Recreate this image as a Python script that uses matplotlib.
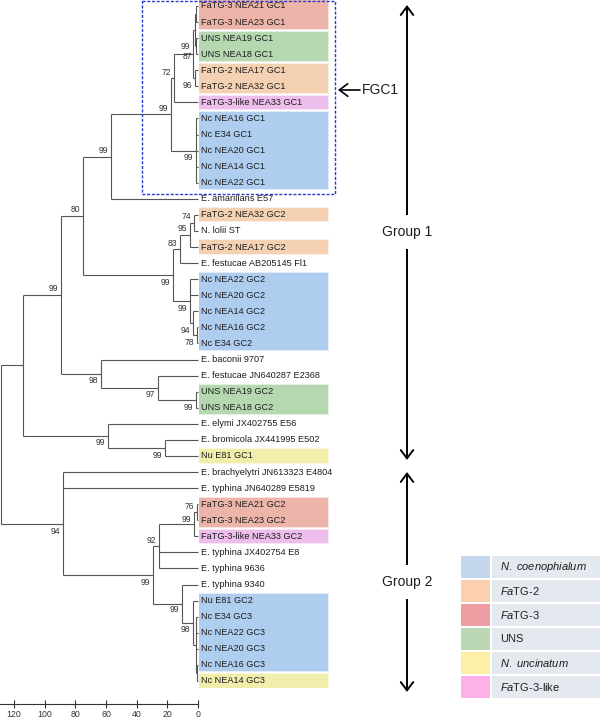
import matplotlib
matplotlib.use("Agg")
import matplotlib.pyplot as plt
from matplotlib.patches import Rectangle

plt.rcParams['font.family'] = ['Liberation Sans', 'DejaVu Sans']
plt.rcParams['mathtext.fontset'] = 'custom'
plt.rcParams['mathtext.it'] = 'Liberation Sans:italic'
plt.rcParams['mathtext.rm'] = 'Liberation Sans'

# ---------------- data ----------------
leaf_names = [
    "FaTG-3 NEA21 GC1", "FaTG-3 NEA23 GC1", "UNS NEA19 GC1", "UNS NEA18 GC1",
    "FaTG-2 NEA17 GC1", "FaTG-2 NEA32 GC1", "FaTG-3-like NEA33 GC1",
    "Nc NEA16 GC1", "Nc E34 GC1", "Nc NEA20 GC1", "Nc NEA14 GC1", "Nc NEA22 GC1",
    "E. amarillans E57", "FaTG-2 NEA32 GC2", "N. lolii ST", "FaTG-2 NEA17 GC2",
    "E. festucae AB205145 Fl1", "Nc NEA22 GC2", "Nc NEA20 GC2", "Nc NEA14 GC2",
    "Nc NEA16 GC2", "Nc E34 GC2", "E. baconii 9707", "E. festucae JN640287 E2368",
    "UNS NEA19 GC2", "UNS NEA18 GC2", "E. elymi JX402755 E56",
    "E. bromicola JX441995 E502", "Nu E81 GC1", "E. brachyelytri JN613323 E4804",
    "E. typhina JN640289 E5819", "FaTG-3 NEA21 GC2", "FaTG-3 NEA23 GC2",
    "FaTG-3-like NEA33 GC2", "E. typhina JX402754 E8", "E. typhina 9636",
    "E. typhina 9340", "Nu E81 GC2", "Nc E34 GC3", "Nc NEA22 GC3", "Nc NEA20 GC3",
    "Nc NEA16 GC3", "Nc NEA14 GC3",
]
leaf_groups = [
    "F3", "F3", "UNS", "UNS", "F2", "F2", "F3L", "Nc", "Nc", "Nc", "Nc", "Nc",
    "", "F2", "", "F2", "", "Nc", "Nc", "Nc", "Nc", "Nc", "", "", "UNS", "UNS",
    "", "", "Nu", "", "", "F3", "F3", "F3L", "", "", "", "Nc", "Nc", "Nc", "Nc",
    "Nc", "Nu",
]
# internal nodes (post-order): name, children (leaf index or node name), age, support
node_names = ["E", "F", "C", "D", "B", "A", "NcGC1", "FGC1", "N111", "n74", "n95",
              "n83", "n78", "n94", "NcGC2", "N173", "N83", "UNS2", "n97", "N101",
              "N61", "NuN", "N108", "G1", "n76", "n99b", "n92", "sub", "poly",
              "n98", "n182", "N153", "G2", "root"]
node_children = [[0, 1], [2, 3], ["E", "F"], [4, 5], ["C", "D"], ["B", 6],
                 [7, 8, 9, 10, 11], ["A", "NcGC1"], ["FGC1", 12], [13, 14],
                 ["n74", 15], ["n95", 16], [20, 21], [19, "n78"], [17, 18, "n94"],
                 ["n83", "NcGC2"], ["N111", "N173"], [24, 25], [23, "UNS2"],
                 [22, "n97"], ["N83", "N101"], [27, 28], [26, "NuN"], ["N61", "N108"],
                 [31, 32], ["n76", 33], ["n99b", 34, 35], [41, 42], [38, 39, 40, "sub"],
                 [37, "poly"], [36, "n98"], ["n92", "n182"], [29, 30, "N153"],
                 ["G1", "G2"]]
node_ages = [1.0, 1.0, 2.0, 2.0, 3.3, 15.7, 1.3, 17.6, 56.8, 2.6, 5.2, 11.7, 0.7,
             3.3, 5.2, 16.3, 75.0, 1.3, 26.1, 63.3, 89.4, 21.5, 58.7, 114.2, 0.7,
             2.6, 25.4, 0.5, 1.3, 3.5, 10.4, 29.4, 88.1, 128.5]
node_support = ["", "", "87", "96", "99", "72", "99", "99", "99", "74", "95", "83",
                "78", "94", "99", "99", "80", "99", "97", "98", "99", "99", "99", "",
                "76", "99", "92", "", "", "98", "99", "99", "94", ""]
scale_ticks = [0, 20, 40, 60, 80, 100, 120]

legend_keys = ["Nc", "F2", "F3", "UNS", "Nu", "F3L"]
legend_labels = [r"$\it{N.\ coenophialum}$", r"$\it{Fa}$TG-2", r"$\it{Fa}$TG-3", "UNS",
                 r"$\it{N.\ uncinatum}$", r"$\it{Fa}$TG-3-like"]

# ---------------- style ----------------
box_colors = {"Nc": "#AECDEF", "F2": "#F4D1B3", "F3": "#EDB5A9", "UNS": "#B5D8B1",
              "Nu": "#F1EDAB", "F3L": "#EDBDEC"}
legend_colors = {"Nc": "#C4D6EE", "F2": "#FBCFAF", "F3": "#EF9DA3", "UNS": "#BCD7B3",
                 "Nu": "#FDF0A6", "F3L": "#FDB1E8"}
# support label vertical offsets in pixels (negative = above)
label_dy = {"C": 26, "D": 7, "B": -8, "A": -6, "NcGC1": 7, "FGC1": -6, "N111": -6,
            "n74": -6, "n95": -6, "n83": -6, "n78": 7, "n94": 7, "NcGC2": 7,
            "N173": 7, "N83": -6, "UNS2": 8, "n97": 7, "N101": 7, "N61": -6,
            "NuN": 8, "N108": 7, "n76": -6, "n99b": -5, "n92": -6, "n98": 7,
            "n182": 6, "N153": 8, "G2": 8}

W, H = 600, 718
PX_PER_AGE = 1.533
X0 = 198.0
ROW = 16.07
Y0 = 6.0


def age_of(px):
    return (X0 - px) / PX_PER_AGE


def idx_of(py):
    return (py - Y0) / ROW


LINE = "#555555"
TXT = "#1e1e1e"

fig = plt.figure(figsize=(W / 100, H / 100), dpi=100)
ax = fig.add_axes([0, 0, 1, 1])
ax.set_xlim(age_of(0), age_of(W))
ax.set_ylim(idx_of(H), idx_of(0))
ax.patch.set_alpha(0)

# ---------------- boxes ----------------
x_left, x_right = age_of(199), age_of(328)
i = 0
n = len(leaf_groups)
while i < n:
    g = leaf_groups[i]
    j = i
    while j + 1 < n and leaf_groups[j + 1] == g:
        j += 1
    if g:
        y0, y1 = i - 0.41, j + 0.41
        ax.add_patch(Rectangle((x_left, y0 - 0.06), x_right - x_left - 0.8, y1 - y0 + 0.12,
                               facecolor=box_colors[g], edgecolor="none", alpha=0.35, zorder=1))
        ax.add_patch(Rectangle((x_left, y0), x_right - x_left, y1 - y0,
                               facecolor=box_colors[g], edgecolor="none", zorder=1))
    i = j + 1

# ---------------- tree ----------------
node_y = {}
node_age = dict(zip(node_names, node_ages))


def ypos(c):
    return c if isinstance(c, int) else node_y[c]


def apos(c):
    return 0.0 if isinstance(c, int) else node_age[c]


for name, ch, age, sup in zip(node_names, node_children, node_ages, node_support):
    ys = [ypos(c) for c in ch]
    ax.plot([age, age], [min(ys), max(ys)], color=LINE, lw=0.8, zorder=3,
            solid_capstyle="butt")
    for c in ch:
        ax.plot([age, apos(c)], [ypos(c), ypos(c)], color=LINE, lw=0.8, zorder=3,
                solid_capstyle="butt")
    node_y[name] = (min(ys) + max(ys)) / 2
    if sup:
        ax.annotate(sup, xy=(age, node_y[name]), xytext=(-3 * 0.72, -label_dy[name] * 0.72),
                    textcoords="offset points", ha="right", va="center",
                    fontsize=6.2, color="#333333", zorder=4)

for k, nm in enumerate(leaf_names):
    ax.text(age_of(201.5), k, nm, ha="left", va="center", fontsize=6.6,
            color=TXT, zorder=4)

# dashed FGC1 box
ax.add_patch(Rectangle((age_of(142), idx_of(1)), age_of(335) - age_of(142),
                       idx_of(194) - idx_of(1), fill=False, edgecolor="#2a3bd0",
                       lw=1.0, linestyle=(0, (2.2, 1.2)), zorder=5))

# ---------------- scale axis ----------------
for s in ["top", "left", "right"]:
    ax.spines[s].set_visible(False)
ax.spines["bottom"].set_position(("data", idx_of(704)))
ax.spines["bottom"].set_bounds(0, age_of(0))
ax.spines["bottom"].set_color("#333333")
ax.spines["bottom"].set_linewidth(0.8)
ax.set_xticks(scale_ticks)
ax.set_xticklabels([str(t) for t in scale_ticks])
ax.tick_params(axis="x", direction="inout", length=6, width=0.8, labelsize=6.3,
               pad=1.5, colors="#333333")
ax.yaxis.set_visible(False)

# ---------------- group arrows ----------------
gx = age_of(407)
for top, bot, lab, ly in [(5, 460, "Group 1", 232), (472, 692, "Group 2", 582)]:
    ax.annotate("", xy=(gx, idx_of(top)), xytext=(gx, idx_of(bot)),
                arrowprops=dict(arrowstyle="<->,head_length=0.6,head_width=0.45",
                                lw=1.4, color="black", shrinkA=0, shrinkB=0,
                                mutation_scale=10), zorder=5)
    ax.text(gx, idx_of(ly), lab, ha="center", va="center", fontsize=10, color=TXT,
            bbox=dict(facecolor="white", edgecolor="none", pad=7), zorder=6)

ax.annotate("", xy=(age_of(338), idx_of(90)), xytext=(age_of(360), idx_of(90)),
            arrowprops=dict(arrowstyle="->,head_length=0.6,head_width=0.45", lw=1.2,
                            color="black", shrinkA=0, shrinkB=0, mutation_scale=10))
ax.text(age_of(362), idx_of(90), "FGC1", ha="left", va="center", fontsize=10, color=TXT)

# ---------------- legend ----------------
for r, (key, lab) in enumerate(zip(legend_keys, legend_labels)):
    top = 556 + 24 * r
    h = 22
    fig.patches.append(Rectangle((461 / W, 1 - (top + h) / H), 29 / W, h / H,
                                 transform=fig.transFigure, facecolor=legend_colors[key],
                                 edgecolor="none", figure=fig))
    fig.patches.append(Rectangle((492 / W, 1 - (top + h) / H), 108 / W, h / H,
                                 transform=fig.transFigure, facecolor="#E4E9EF",
                                 edgecolor="none", figure=fig))
    fig.text(500 / W, 1 - (top + h / 2) / H, lab, ha="left", va="center",
             fontsize=8, color=TXT)

fig.savefig("out.png", dpi=100)
